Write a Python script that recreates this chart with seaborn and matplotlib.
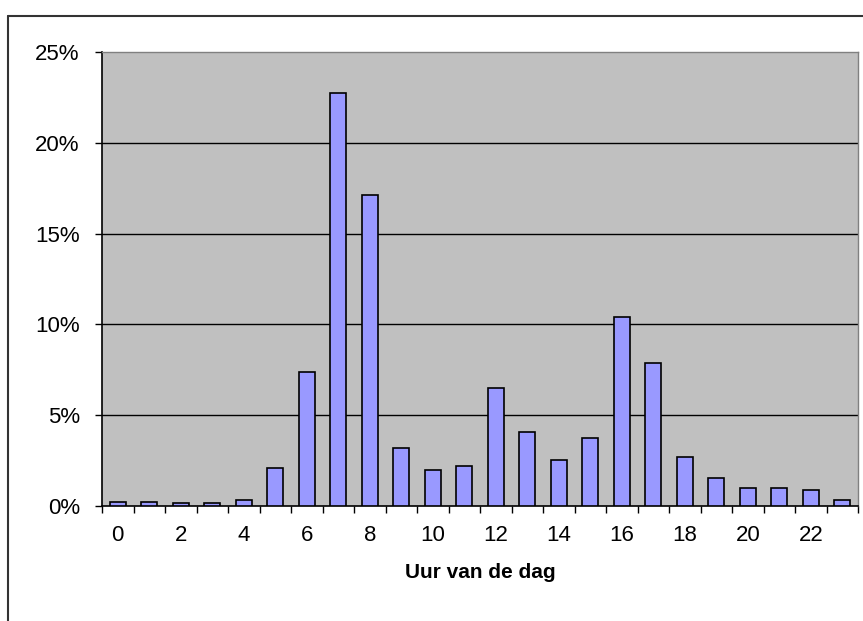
import numpy as np
import pandas as pd
import matplotlib
matplotlib.use("Agg")
import matplotlib.pyplot as plt
import seaborn as sns
from matplotlib.lines import Line2D
from matplotlib.ticker import PercentFormatter

# data (share of trips per hour of day)
uren = list(range(24))
aandeel = [0.24, 0.24, 0.15, 0.15, 0.35, 2.12, 7.38, 22.73, 17.1, 3.22, 2.0, 2.21,
           6.48, 4.06, 2.52, 3.73, 10.4, 7.87, 2.72, 1.52, 0.97, 0.97, 0.88, 0.33]
tick_labels = [str(u) for u in range(0, 24, 2)]

df = pd.DataFrame({"uur": uren, "aandeel": np.array(aandeel) / 100})

sns.set_style("white")
plt.rcParams["font.family"] = ["Liberation Sans", "DejaVu Sans"]
plt.rcParams["text.color"] = "black"
plt.rcParams["xtick.color"] = "black"
plt.rcParams["ytick.color"] = "black"
plt.rcParams["axes.labelcolor"] = "black"

fig = plt.figure(figsize=(8.63, 6.21), dpi=100)
ax = fig.add_axes([102 / 863, 1 - 506 / 621, 756 / 863, 454 / 621])

sns.barplot(data=df, x="uur", y="aandeel", color="#9999FF", saturation=1,
            width=0.5, edgecolor="black", linewidth=1.2, ax=ax, zorder=3)

ax.set_facecolor("#C0C0C0")
ax.set_xlim(-0.5, 23.5)
ax.set_ylim(0, 0.25)
ax.set_yticks([0, 0.05, 0.10, 0.15, 0.20, 0.25])
ax.yaxis.set_major_formatter(PercentFormatter(1.0, decimals=0))
for v in [0.05, 0.10, 0.15, 0.20]:
    ax.axhline(v, color="black", lw=1.0, zorder=1)

ax.set_xticks(range(0, 24, 2))
ax.set_xticklabels(tick_labels)
ax.set_xticks(np.arange(-0.5, 24, 1), minor=True)
ax.tick_params(axis="x", which="major", length=0, pad=14, labelsize=16)
ax.tick_params(axis="x", which="minor", length=5, width=1, color="black", direction="out")
ax.tick_params(axis="y", length=5, width=1, color="black", direction="out", pad=11,
               labelsize=16, left=True)
ax.tick_params(axis="x", bottom=True, which="both")

for s in ["left", "bottom"]:
    ax.spines[s].set_color("black")
    ax.spines[s].set_linewidth(1.2)
for s in ["top", "right"]:
    ax.spines[s].set_color("#808080")
    ax.spines[s].set_linewidth(1.0)

ax.set_ylabel("")
ax.set_xlabel("Uur van de dag", fontsize=15, fontweight="bold", labelpad=12)

# chart-area border (left and top edges visible)
fig.add_artist(Line2D([8 / 863, 8 / 863], [0, 1 - 16 / 621], color="#333333", lw=1.5))
fig.add_artist(Line2D([8 / 863, 1], [1 - 16 / 621, 1 - 16 / 621], color="#333333", lw=1.5))

fig.savefig("out.png", dpi=100)
